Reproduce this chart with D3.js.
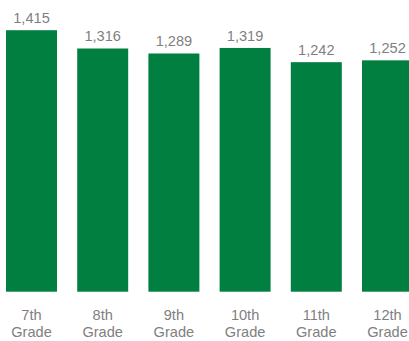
<!DOCTYPE html>
<html>
<head>
<meta charset="utf-8">
<script src="https://cdn.jsdelivr.net/npm/d3@7"></script>
<style>
  html, body { margin: 0; padding: 0; background: #fff; }
  svg { display: block; }
  text { font-family: "Liberation Sans", Arial, sans-serif; fill: #7f7f7f; }
</style>
</head>
<body>
<script>
// Enrollment by grade
const grades = ["7th", "8th", "9th", "10th", "11th", "12th"];
const gradeSuffix = "Grade";
const counts = [1415, 1316, 1289, 1319, 1242, 1252];

const width = 409, height = 341;
const baseline = 291.7;

const svg = d3.select("body").append("svg")
  .attr("width", width)
  .attr("height", height);

const x = d3.scaleBand()
  .domain(grades)
  .range([-4.1, 423.1])
  .paddingInner(0.284)
  .paddingOuter(0.142);

const y = d3.scaleLinear()
  .domain([0, 1600])
  .range([baseline, baseline - 1600 * 0.1848]);

const fmt = d3.format(",");

// bars
svg.append("g").selectAll("rect")
  .data(counts)
  .join("rect")
  .attr("x", (d, i) => x(grades[i]))
  .attr("width", x.bandwidth())
  .attr("y", d => y(d))
  .attr("height", d => y(0) - y(d))
  .attr("fill", "#007f41");

// value labels above bars
svg.append("g").selectAll("text")
  .data(counts)
  .join("text")
  .attr("x", (d, i) => x(grades[i]) + x.bandwidth() / 2)
  .attr("y", d => y(d) - 7.3)
  .attr("text-anchor", "middle")
  .style("font-size", "14.6px")
  .text(d => fmt(d));

// category labels, two lines
const cat = svg.append("g").selectAll("text")
  .data(grades)
  .join("text")
  .attr("text-anchor", "middle")
  .style("font-size", "14.6px");
cat.append("tspan")
  .attr("x", d => x(d) + x.bandwidth() / 2)
  .attr("y", 320.2)
  .text(d => d);
cat.append("tspan")
  .attr("x", d => x(d) + x.bandwidth() / 2)
  .attr("y", 336.8)
  .text(gradeSuffix);
</script>
</body>
</html>
